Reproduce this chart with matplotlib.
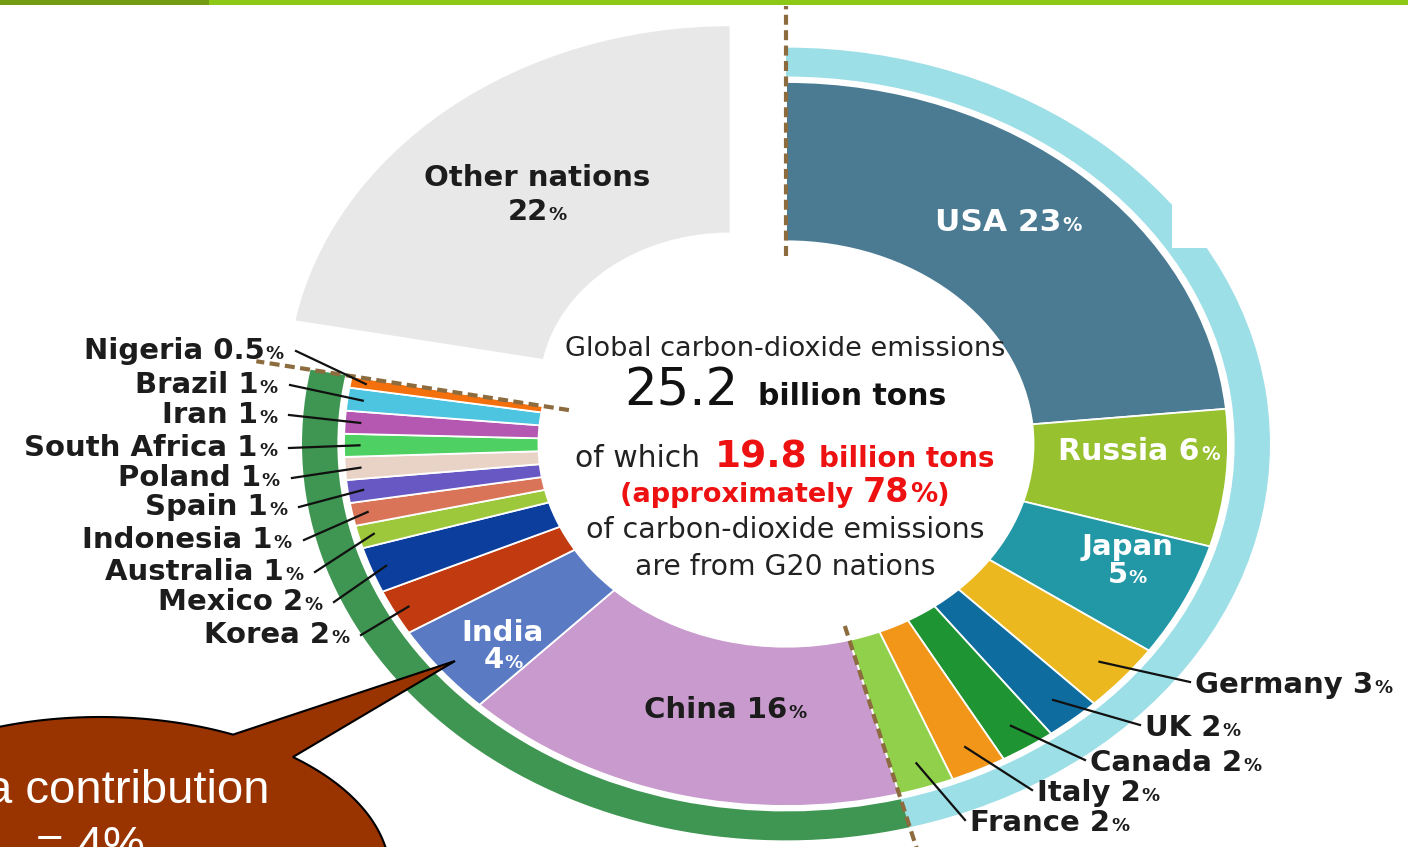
import numpy as np
import matplotlib
matplotlib.use("Agg")
import matplotlib.pyplot as plt
from matplotlib.patches import Rectangle, Polygon

# ---------------- data ----------------
g20_nations = ["USA", "Russia", "Japan", "Germany", "UK", "Canada", "Italy", "France",
               "China", "India", "Korea", "Mexico", "Australia", "Indonesia", "Spain",
               "Poland", "South Africa", "Iran", "Brazil", "Nigeria"]
g20_share = [23, 6, 5, 3, 2, 2, 2, 2, 16, 4, 2, 2, 1, 1, 1, 1, 1, 1, 1, 0.5]
other_name = "Other nations"
other_share = 22
g20_total_share = 78        # G20 part of the circle (%)
n_blue_group = 8            # USA ... France share the light-blue outer band
total_emissions = "25.2"
g20_emissions = "19.8"
g20_percent = "78"
india_share_text = "4"

# ---------------- style ----------------
g20_colors = ["#4a7b93", "#97c12f", "#2297a6", "#ebb81f", "#0f6c9f", "#1f9432", "#f2961a",
              "#91d04a", "#c99acd", "#5a7bc4", "#c23a10", "#0c3e9e", "#9ec83c", "#d97458",
              "#6758c4", "#e9d3c7", "#4fd062", "#b558b2", "#4dc5e0", "#f4700c"]
other_color = "#e8e8e8"
band_colors = ["#9ddfe7", "#3e9652"]
dash_color = "#8c6c3e"
dark = "#1c1c1c"
red = "#ee1111"

W, H = 1408, 847
CX, CY, RX, RY = 786, 444, 442, 362

fig = plt.figure(figsize=(W / 100, H / 100), dpi=100)
ax = fig.add_axes([0, 0, 1, 1])
ax.set_axis_off()
renderer = fig.canvas.get_renderer()


def P(x, y):
    return ((x - CX) / RX, (CY - y) / RY)


# wedge sizes: G20 shares scaled so that they fill the G20 part of the circle
scale = g20_total_share / float(sum(g20_share))
values = [v * scale for v in g20_share] + [other_share]
tot = float(sum(values))
cum = np.concatenate([[0], np.cumsum(values)]) / tot


def ang(frac):
    return np.deg2rad(90 - 360 * frac)


# main G20 ring
ax.pie(values, colors=g20_colors + ["none"], radius=1.0, startangle=90, counterclock=False,
       wedgeprops=dict(width=0.44, edgecolor="white", linewidth=1.3))
# exploded "other nations" wedge
ax.pie(values, colors=["none"] * len(g20_share) + [other_color], radius=1.0, startangle=90,
       counterclock=False, explode=[0] * len(g20_share) + [0.2],
       wedgeprops=dict(width=0.57, linewidth=0))
# outer bands
band_vals = [sum(values[:n_blue_group]), sum(values[n_blue_group:len(g20_share)]), other_share]
ax.pie(band_vals, colors=band_colors + ["none"], radius=1.095, startangle=90, counterclock=False,
       wedgeprops=dict(width=0.08, linewidth=0))

ax.set_aspect("auto")
ax.set_xlim(-CX / RX, (W - CX) / RX)
ax.set_ylim(-(H - CY) / RY, CY / RY)

# dashed separators
for frac, r0, r1 in [(0.0, 0.52, 1.21), (cum[n_blue_group], 0.52, 1.4),
                     (cum[len(g20_share)], 0.5, 1.22)]:
    a = ang(frac)
    ax.plot([r0 * np.cos(a), r1 * np.cos(a)], [r0 * np.sin(a), r1 * np.sin(a)],
            color=dash_color, lw=3, ls=(0, (2.4, 1.3)), zorder=6, solid_capstyle="butt")

# white notch artifact on the band
ax.add_patch(Rectangle(P(1172, 248), 58 / RX, 50 / RY, facecolor="white", edgecolor="none", zorder=5))


def measure(s, size, weight, fam):
    t = ax.text(0, 0, s, fontsize=size, fontweight=weight, family=fam)
    w = t.get_window_extent(renderer).width
    t.remove()
    return w


def rich(pieces, x, y, ha="center", zorder=10):
    """pieces: (text, size, weight, color, family, gap_px_before)"""
    widths = [measure(s, sz, wt, fam) for s, sz, wt, c, fam, g in pieces]
    total = sum(widths) + sum(p[5] for p in pieces)
    x0 = x - total / 2 if ha == "center" else (x - total if ha == "right" else x)
    cur = x0
    for (s, sz, wt, c, fam, g), w in zip(pieces, widths):
        cur += g
        ax.text(*P(cur, y), s, fontsize=sz, fontweight=wt, color=c, family=fam,
                ha="left", va="baseline", zorder=zorder)
        cur += w
    return x0, x0 + total


F = "DejaVu Sans"


def pct_label(num, x, y, color, size, ha, pct_size=None):
    pct_size = pct_size or size * 0.62
    return rich([(num, size, "bold", color, F, 0), ("%", pct_size, "bold", color, F, 1)], x, y, ha=ha)


def fmt(v):
    return f"{v:g}"


idx = {n: i for i, n in enumerate(g20_nations)}

# inside labels
pct_label(f"USA {fmt(g20_share[idx['USA']])}", 1008, 231, "white", 22.5, "center")
pct_label(f"Russia {fmt(g20_share[idx['Russia']])}", 1139, 460, "white", 21.5, "center")
rich([("Japan", 21, "bold", "white", F, 0)], 1127, 555)
pct_label(fmt(g20_share[idx['Japan']]), 1127, 583, "white", 21, "center")
pct_label(f"China {fmt(g20_share[idx['China']])}", 725, 718, dark, 21, "center")
rich([("India", 21, "bold", "white", F, 0)], 503, 641)
pct_label(fmt(g20_share[idx['India']]), 503, 668, "white", 21, "center")
rich([(other_name, 21, "bold", dark, F, 0)], 537, 186)
pct_label(fmt(other_share), 537, 220, dark, 21, "center")

# left leader labels
left_names = ["Nigeria", "Brazil", "Iran", "South Africa", "Poland", "Spain", "Indonesia",
              "Australia", "Mexico", "Korea"]
left_xr = [284, 278, 277, 277, 280, 287, 292, 303, 322, 349]
left_yb = [359, 393, 423, 456, 486, 515, 548, 580, 610, 643]
for name, xr, yb in zip(left_names, left_xr, left_yb):
    i = idx[name]
    pct_label(f"{name} {fmt(g20_share[i])}", xr, yb, dark, 21, "right", 13)
    a = ang((cum[i] + cum[i + 1]) / 2)
    sx, sy = P(xr + 12, yb - 8)
    ax.plot([sx, 0.965 * np.cos(a)], [sy, 0.965 * np.sin(a)], color="#111111", lw=1.6, zorder=7)

# right leader labels
right_names = ["Germany", "UK", "Canada", "Italy", "France"]
right_xl = [1195, 1145, 1090, 1037, 970]
right_yb = [693, 736, 771, 801, 831]
for name, xl, yb in zip(right_names, right_xl, right_yb):
    i = idx[name]
    pct_label(f"{name} {fmt(g20_share[i])}", xl, yb, dark, 21, "left", 13)
    a = ang((cum[i] + cum[i + 1]) / 2)
    ex, ey = P(xl - 5, yb - 11)
    ax.plot([0.93 * np.cos(a), ex], [0.93 * np.sin(a), ey], color="#111111", lw=1.6, zorder=7)

# centre text
rich([("Global carbon-dioxide emissions", 19.5, "normal", "#222222", F, 0)], 785, 356)
rich([(total_emissions, 37, "normal", "#111111", F, 0),
      ("billion tons", 21.5, "bold", "#111111", F, 20)], 785, 405)
rich([("of which", 21.5, "normal", "#222222", F, 0),
      (g20_emissions, 27, "bold", red, F, 14),
      ("billion tons", 20, "bold", red, F, 12)], 785, 467)
rich([("(approximately ", 19.5, "bold", red, F, 0),
      (g20_percent, 24, "bold", red, F, 0),
      ("%)", 19.5, "bold", red, F, 1)], 785, 502)
rich([("of carbon-dioxide emissions", 20.5, "normal", "#222222", F, 0)], 785, 538)
rich([("are from G20 nations", 20.3, "normal", "#222222", F, 0)], 785, 575)

# top green bar
fig.patches.append(Rectangle((0, 1 - 5 / H), 1, 5 / H, transform=fig.transFigure,
                             facecolor="#8dc814", edgecolor="none", zorder=20))
fig.patches.append(Rectangle((0, 1 - 5 / H), 209 / W, 5 / H, transform=fig.transFigure,
                             facecolor="#739c14", edgecolor="none", zorder=21))

# callout bubble
ecx, ecy, erx, ery = 100, 875, 290, 158
phi = np.deg2rad(np.linspace(48.3, 62.7 - 360, 300))
pts = [P(ecx + erx * np.cos(p), ecy - ery * np.sin(p)) for p in phi]
pts.append(P(455, 661))
ax.add_patch(Polygon(pts, closed=True, facecolor="#993300", edgecolor="black", lw=1.5, zorder=12))
ax.text(*P(90, 803), "India contribution", fontsize=34, color="white", family="Liberation Sans",
        ha="center", va="baseline", zorder=13)
ax.text(*P(90, 859), f"= {india_share_text}%", fontsize=34, color="white", family="Liberation Sans",
        ha="center", va="baseline", zorder=13)

fig.savefig("out.png", dpi=100)
